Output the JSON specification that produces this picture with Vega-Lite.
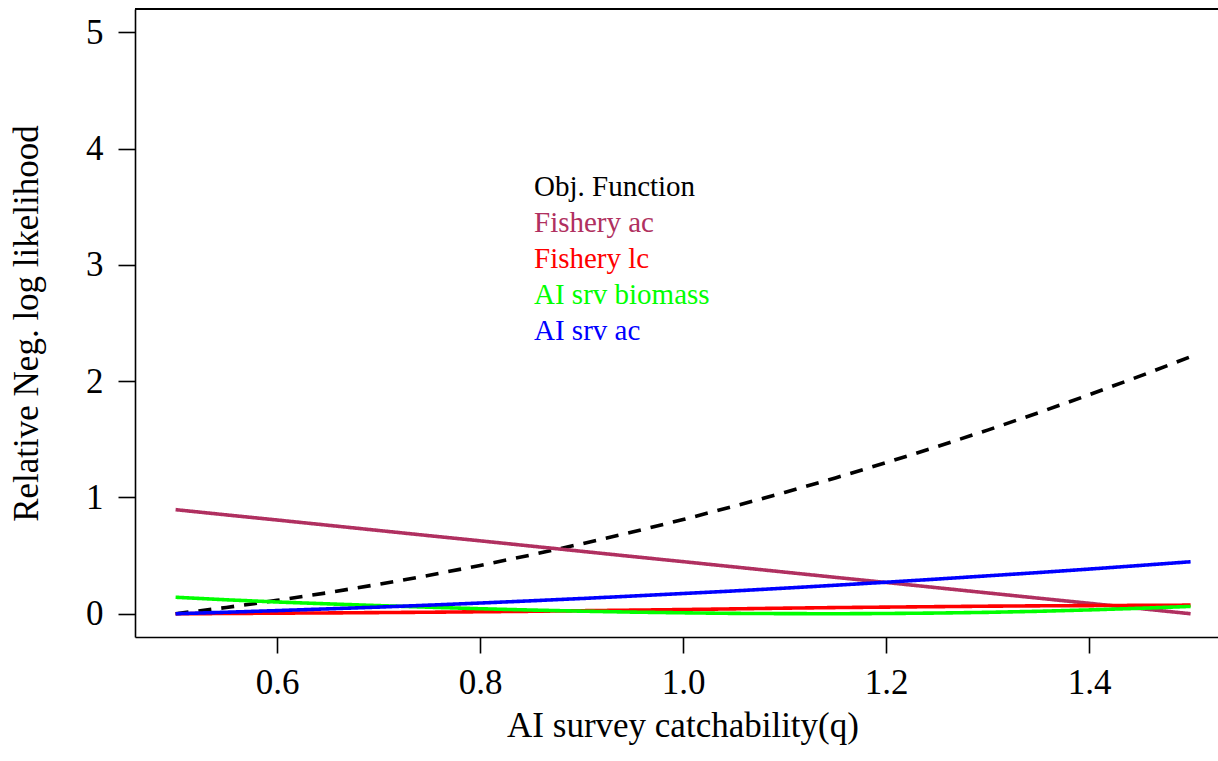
{
  "$schema": "https://vega.github.io/schema/vega-lite/v6.json",
  "width": 1083,
  "height": 628,
  "autosize": {"type": "none"},
  "padding": {"left": 135, "top": 9, "right": 0, "bottom": 124},
  "background": "white",
  "config": {
    "view": {"stroke": null},
    "font": "Liberation Serif",
    "axis": {
      "grid": false,
      "domainColor": "black",
      "domainWidth": 1.6,
      "tickColor": "black",
      "tickWidth": 1.6,
      "labelColor": "black",
      "titleColor": "black",
      "labelFont": "Liberation Serif",
      "titleFont": "Liberation Serif",
      "labelFontSize": 35,
      "titleFontSize": 35,
      "titleFontWeight": "normal",
      "labelFlush": false,
      "labelOverlap": false
    },
    "axisX": {
      "tickSize": 16,
      "labelPadding": 40,
      "labelBaseline": "alphabetic",
      "titleX": 547.5,
      "titleY": 99,
      "titleAlign": "center",
      "titleBaseline": "alphabetic"
    },
    "axisY": {
      "tickSize": 17,
      "labelPadding": 15,
      "titleX": -97.5,
      "titleY": 314,
      "titleAngle": -90,
      "titleAlign": "center",
      "titleBaseline": "alphabetic"
    }
  },
  "data": {
    "values": [
      {"q": 0.50, "series": "Obj. Function", "nll": 0.000},
      {"q": 0.55, "series": "Obj. Function", "nll": 0.054},
      {"q": 0.60, "series": "Obj. Function", "nll": 0.115},
      {"q": 0.65, "series": "Obj. Function", "nll": 0.181},
      {"q": 0.70, "series": "Obj. Function", "nll": 0.253},
      {"q": 0.75, "series": "Obj. Function", "nll": 0.331},
      {"q": 0.80, "series": "Obj. Function", "nll": 0.415},
      {"q": 0.85, "series": "Obj. Function", "nll": 0.505},
      {"q": 0.90, "series": "Obj. Function", "nll": 0.601},
      {"q": 0.95, "series": "Obj. Function", "nll": 0.702},
      {"q": 1.00, "series": "Obj. Function", "nll": 0.810},
      {"q": 1.05, "series": "Obj. Function", "nll": 0.924},
      {"q": 1.10, "series": "Obj. Function", "nll": 1.043},
      {"q": 1.15, "series": "Obj. Function", "nll": 1.168},
      {"q": 1.20, "series": "Obj. Function", "nll": 1.299},
      {"q": 1.25, "series": "Obj. Function", "nll": 1.436},
      {"q": 1.30, "series": "Obj. Function", "nll": 1.579},
      {"q": 1.35, "series": "Obj. Function", "nll": 1.728},
      {"q": 1.40, "series": "Obj. Function", "nll": 1.883},
      {"q": 1.45, "series": "Obj. Function", "nll": 2.043},
      {"q": 1.50, "series": "Obj. Function", "nll": 2.210},

      {"q": 0.50, "series": "Fishery ac", "nll": 0.895},
      {"q": 0.55, "series": "Fishery ac", "nll": 0.850},
      {"q": 0.60, "series": "Fishery ac", "nll": 0.806},
      {"q": 0.65, "series": "Fishery ac", "nll": 0.761},
      {"q": 0.70, "series": "Fishery ac", "nll": 0.716},
      {"q": 0.75, "series": "Fishery ac", "nll": 0.671},
      {"q": 0.80, "series": "Fishery ac", "nll": 0.627},
      {"q": 0.85, "series": "Fishery ac", "nll": 0.582},
      {"q": 0.90, "series": "Fishery ac", "nll": 0.537},
      {"q": 0.95, "series": "Fishery ac", "nll": 0.492},
      {"q": 1.00, "series": "Fishery ac", "nll": 0.448},
      {"q": 1.05, "series": "Fishery ac", "nll": 0.403},
      {"q": 1.10, "series": "Fishery ac", "nll": 0.358},
      {"q": 1.15, "series": "Fishery ac", "nll": 0.313},
      {"q": 1.20, "series": "Fishery ac", "nll": 0.269},
      {"q": 1.25, "series": "Fishery ac", "nll": 0.224},
      {"q": 1.30, "series": "Fishery ac", "nll": 0.179},
      {"q": 1.35, "series": "Fishery ac", "nll": 0.134},
      {"q": 1.40, "series": "Fishery ac", "nll": 0.090},
      {"q": 1.45, "series": "Fishery ac", "nll": 0.045},
      {"q": 1.50, "series": "Fishery ac", "nll": 0.000},

      {"q": 0.50, "series": "Fishery lc", "nll": 0.000},
      {"q": 0.55, "series": "Fishery lc", "nll": 0.002},
      {"q": 0.60, "series": "Fishery lc", "nll": 0.005},
      {"q": 0.65, "series": "Fishery lc", "nll": 0.007},
      {"q": 0.70, "series": "Fishery lc", "nll": 0.010},
      {"q": 0.75, "series": "Fishery lc", "nll": 0.013},
      {"q": 0.80, "series": "Fishery lc", "nll": 0.017},
      {"q": 0.85, "series": "Fishery lc", "nll": 0.021},
      {"q": 0.90, "series": "Fishery lc", "nll": 0.026},
      {"q": 0.95, "series": "Fishery lc", "nll": 0.031},
      {"q": 1.00, "series": "Fishery lc", "nll": 0.036},
      {"q": 1.05, "series": "Fishery lc", "nll": 0.042},
      {"q": 1.10, "series": "Fishery lc", "nll": 0.048},
      {"q": 1.15, "series": "Fishery lc", "nll": 0.053},
      {"q": 1.20, "series": "Fishery lc", "nll": 0.057},
      {"q": 1.25, "series": "Fishery lc", "nll": 0.061},
      {"q": 1.30, "series": "Fishery lc", "nll": 0.065},
      {"q": 1.35, "series": "Fishery lc", "nll": 0.068},
      {"q": 1.40, "series": "Fishery lc", "nll": 0.070},
      {"q": 1.45, "series": "Fishery lc", "nll": 0.072},
      {"q": 1.50, "series": "Fishery lc", "nll": 0.074},

      {"q": 0.50, "series": "AI srv biomass", "nll": 0.142},
      {"q": 0.55, "series": "AI srv biomass", "nll": 0.120},
      {"q": 0.60, "series": "AI srv biomass", "nll": 0.101},
      {"q": 0.65, "series": "AI srv biomass", "nll": 0.085},
      {"q": 0.70, "series": "AI srv biomass", "nll": 0.070},
      {"q": 0.75, "series": "AI srv biomass", "nll": 0.056},
      {"q": 0.80, "series": "AI srv biomass", "nll": 0.043},
      {"q": 0.85, "series": "AI srv biomass", "nll": 0.032},
      {"q": 0.90, "series": "AI srv biomass", "nll": 0.022},
      {"q": 0.95, "series": "AI srv biomass", "nll": 0.014},
      {"q": 1.00, "series": "AI srv biomass", "nll": 0.008},
      {"q": 1.05, "series": "AI srv biomass", "nll": 0.003},
      {"q": 1.10, "series": "AI srv biomass", "nll": 0.001},
      {"q": 1.15, "series": "AI srv biomass", "nll": 0.000},
      {"q": 1.20, "series": "AI srv biomass", "nll": 0.002},
      {"q": 1.25, "series": "AI srv biomass", "nll": 0.006},
      {"q": 1.30, "series": "AI srv biomass", "nll": 0.012},
      {"q": 1.35, "series": "AI srv biomass", "nll": 0.021},
      {"q": 1.40, "series": "AI srv biomass", "nll": 0.033},
      {"q": 1.45, "series": "AI srv biomass", "nll": 0.047},
      {"q": 1.50, "series": "AI srv biomass", "nll": 0.063},

      {"q": 0.50, "series": "AI srv ac", "nll": 0.000},
      {"q": 0.55, "series": "AI srv ac", "nll": 0.013},
      {"q": 0.60, "series": "AI srv ac", "nll": 0.027},
      {"q": 0.65, "series": "AI srv ac", "nll": 0.042},
      {"q": 0.70, "series": "AI srv ac", "nll": 0.057},
      {"q": 0.75, "series": "AI srv ac", "nll": 0.074},
      {"q": 0.80, "series": "AI srv ac", "nll": 0.092},
      {"q": 0.85, "series": "AI srv ac", "nll": 0.111},
      {"q": 0.90, "series": "AI srv ac", "nll": 0.131},
      {"q": 0.95, "series": "AI srv ac", "nll": 0.152},
      {"q": 1.00, "series": "AI srv ac", "nll": 0.174},
      {"q": 1.05, "series": "AI srv ac", "nll": 0.196},
      {"q": 1.10, "series": "AI srv ac", "nll": 0.220},
      {"q": 1.15, "series": "AI srv ac", "nll": 0.245},
      {"q": 1.20, "series": "AI srv ac", "nll": 0.271},
      {"q": 1.25, "series": "AI srv ac", "nll": 0.298},
      {"q": 1.30, "series": "AI srv ac", "nll": 0.326},
      {"q": 1.35, "series": "AI srv ac", "nll": 0.354},
      {"q": 1.40, "series": "AI srv ac", "nll": 0.384},
      {"q": 1.45, "series": "AI srv ac", "nll": 0.415},
      {"q": 1.50, "series": "AI srv ac", "nll": 0.447}
    ]
  },
  "layer": [
    {
      "mark": {"type": "line", "strokeWidth": 3.6},
      "encoding": {
        "x": {
          "field": "q",
          "type": "quantitative",
          "scale": {"domain": [0.46, 1.527], "nice": false, "zero": false},
          "axis": {"values": [0.6, 0.8, 1.0, 1.2, 1.4], "format": ".1f", "title": "AI survey catchability(q)"}
        },
        "y": {
          "field": "nll",
          "type": "quantitative",
          "scale": {"domain": [-0.2, 5.2], "nice": false, "zero": false},
          "axis": {"values": [0, 1, 2, 3, 4, 5], "format": "d", "title": "Relative Neg. log likelihood"}
        },
        "color": {
          "field": "series",
          "type": "nominal",
          "sort": ["Obj. Function", "Fishery ac", "Fishery lc", "AI srv biomass", "AI srv ac"],
          "scale": {
            "domain": ["Obj. Function", "Fishery ac", "Fishery lc", "AI srv biomass", "AI srv ac"],
            "range": ["#000000", "#B03060", "#FF0000", "#00FF00", "#0000FF"]
          },
          "legend": {
            "title": null,
            "orient": "none",
            "legendX": 370,
            "legendY": 163,
            "padding": 0,
            "symbolSize": 0,
            "symbolOpacity": 0,
            "symbolStrokeWidth": 0,
            "labelOffset": 0,
            "labelFont": "Liberation Serif",
            "labelFontSize": 29,
            "labelLimit": 0,
            "rowPadding": 6,
            "encode": {
              "labels": {"update": {"fill": {"scale": "color", "field": "value"}}}
            }
          }
        },
        "strokeDash": {
          "field": "series",
          "type": "nominal",
          "scale": {
            "domain": ["Obj. Function", "Fishery ac", "Fishery lc", "AI srv biomass", "AI srv ac"],
            "range": [[13, 10], [1, 0], [1, 0], [1, 0], [1, 0]]
          },
          "legend": null
        }
      }
    },
    {
      "mark": {"type": "rule", "color": "black", "strokeWidth": 1.6},
      "encoding": {
        "y": {
          "datum": 5.2,
          "type": "quantitative",
          "axis": {"values": [0, 1, 2, 3, 4, 5], "format": "d", "title": "Relative Neg. log likelihood"}
        }
      }
    }
  ]
}
